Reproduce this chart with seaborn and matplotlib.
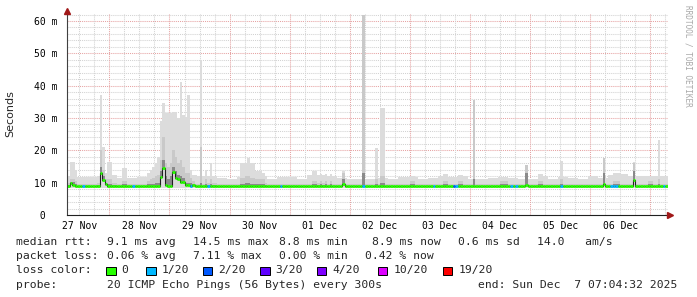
import numpy as np
import matplotlib
matplotlib.use("Agg")
import matplotlib.pyplot as plt
from matplotlib.patches import Rectangle
import seaborn as sns

# ---------------- data ----------------
day_labels = ["27 Nov", "28 Nov", "29 Nov", "30 Nov", "01 Dec",
              "02 Dec", "03 Dec", "04 Dec", "05 Dec", "06 Dec"]
ytick_values = [0, 10, 20, 30, 40, 50, 60]
ytick_labels = [" 0  ", "10 m", "20 m", "30 m", "40 m", "50 m", "60 m"]

# background smoke (max rtt, ms) in 4-hour blocks, 60 blocks = 10 days
smoke_top_4h = [12.0, 11.8, 11.8, 12.0, 12.5, 11.5, 11.5, 11.8, 13.0, 14.0,
                14.0, 14.0, 12.5, 12.0, 12.0, 11.5, 11.2, 11.8, 12.5, 12.0,
                11.2, 11.8, 11.8, 11.2, 12.5, 12.5, 12.0, 11.5, 11.0, 11.2,
                11.0, 11.5, 11.0, 11.8, 11.8, 11.2, 11.5, 12.0, 11.8, 12.0,
                11.2, 11.2, 11.5, 11.8, 11.5, 11.0, 11.2, 12.2, 11.2, 11.8,
                11.5, 11.2, 12.0, 11.5, 12.5, 12.8, 12.0, 12.0, 12.2, 12.0]
# median rtt (ms) in 4-hour blocks
median_4h = [9.0, 8.9, 8.9, 9.0, 9.0, 8.9, 8.9, 8.9, 8.9, 9.0,
             9.0, 9.0, 8.9, 8.9, 9.0, 8.9, 8.9, 8.9, 8.9, 9.0,
             8.9, 8.9, 8.9, 8.9, 8.9, 9.0, 8.9, 8.9, 8.9, 8.9,
             8.9, 8.9, 8.9, 8.9, 8.9, 8.9, 8.9, 8.9, 8.9, 8.9,
             8.9, 8.9, 8.9, 8.9, 8.9, 8.9, 8.9, 8.9, 8.9, 8.9,
             8.9, 8.9, 8.9, 8.9, 8.9, 8.9, 8.9, 8.9, 8.9, 8.9]
smoke_low = 8.3

# hourly smoke spikes: hour since start, max rtt, upper edge of grey smoke, dark core
spike_hour = [1, 2, 3, 13, 14, 15, 16, 17, 22, 23, 32, 33, 34, 35, 36,
              37, 38, 39, 40, 41, 42, 43, 44, 45, 46, 47, 48, 49, 50,
              53, 55, 57, 69, 70, 71, 72, 73, 74, 75, 76, 77, 78,
              98, 99, 101, 103, 105, 110, 118, 123, 125, 126, 137, 138,
              150, 151, 156, 157, 162, 173, 174, 175, 183, 188, 189, 197,
              214, 218, 219, 220, 226, 232, 233, 236]
spike_top = [16.5, 16.5, 14.0, 37.0, 21.0, 13.0, 16.5, 16.5, 14.5, 14.5, 13.0, 14.0, 15.0, 16.0, 18.0,
             29.0, 34.7, 31.6, 31.6, 31.6, 32.0, 32.0, 30.0, 41.0, 31.0, 30.4, 37.0, 14.0, 12.5,
             47.8, 14.0, 16.0, 16.0, 16.0, 16.0, 17.6, 16.0, 16.0, 13.5, 13.5, 13.5, 13.0,
             13.5, 13.5, 12.7, 12.7, 12.7, 13.7, 62.0, 20.7, 33.0, 33.0, 12.0, 12.0,
             12.7, 12.7, 12.5, 12.5, 35.5, 11.9, 11.9, 11.9, 15.5, 12.7, 12.7, 16.7,
             17.6, 13.0, 13.0, 13.0, 16.3, 12.0, 12.0, 23.2]
spike_mid = [11.0, 11.0, 10.5, 20.0, 14.0, 11.0, 11.0, 11.0, 10.5, 10.5, 10.5, 11.0, 11.5, 12.0, 12.5,
             17.0, 24.0, 16.0, 15.0, 16.0, 20.0, 18.0, 16.0, 17.0, 15.0, 13.0, 13.0, 11.5, 10.5,
             21.0, 11.0, 11.0, 11.5, 11.5, 12.0, 12.0, 11.5, 11.5, 11.0, 11.0, 11.0, 11.0,
             10.5, 10.5, 10.5, 10.5, 10.5, 13.0, 62.0, 11.0, 12.0, 12.0, 10.5, 10.5,
             10.5, 10.5, 10.5, 10.5, 35.5, 10.5, 10.5, 10.5, 15.5, 10.5, 10.5, 11.0,
             17.6, 10.5, 10.5, 10.5, 16.0, 10.5, 10.5, 11.0]
spike_core = [10.3, 10.3, 9.6, 15.0, 12.0, 10.0, 9.6, 9.6, 9.5, 9.5, 9.5, 9.5, 9.6, 9.8, 10.0,
              13.5, 17.0, 12.0, 11.0, 12.0, 15.0, 13.5, 12.5, 12.0, 11.5, 10.0, 10.0, 9.8, 9.5,
              10.0, 9.6, 9.6, 9.6, 9.6, 9.8, 9.8, 9.6, 9.6, 9.5, 9.5, 9.5, 9.5,
              9.5, 9.5, 9.5, 9.5, 9.5, 11.0, 13.0, 9.5, 9.8, 9.8, 9.5, 9.5,
              9.5, 9.5, 9.5, 9.5, 11.0, 9.5, 9.5, 9.5, 13.0, 9.5, 9.5, 9.6,
              13.0, 9.5, 9.5, 9.5, 13.5, 9.5, 9.5, 9.6]

# hourly median deviations
median_hour = [1, 2, 13, 14, 15, 37, 38, 39, 40, 41, 42, 43, 44, 45, 46, 47, 48, 50,
               110, 183, 214, 226]
median_val = [10.0, 9.4, 13.1, 10.8, 9.5, 11.9, 14.5, 9.2, 9.0, 9.1, 13.2, 11.5, 11.1, 10.2,
              10.2, 9.2, 9.4, 9.3, 9.6, 9.3, 9.7, 10.8]

# hourly packet loss (index into loss_labels)
loss_hour = [6, 26, 49, 56, 85, 118, 146, 154, 155, 177, 179, 197, 217, 218, 219, 238]
loss_level = [1, 1, 1, 1, 1, 1, 1, 2, 1, 1, 1, 1, 1, 1, 1, 1]
loss_labels = ["0", "1/20", "2/20", "3/20", "4/20", "10/20", "19/20"]
loss_colors = ["#26ff00", "#00b8ff", "#0059ff", "#5e00ff", "#7e00ff", "#dd00ff", "#ff0000"]

# ---------------- build hourly series ----------------
n_hours = 240
med = np.repeat(np.array(median_4h, float), 4)
med[median_hour] = median_val
top = np.repeat(np.array(smoke_top_4h, float), 4)
mid = med + 0.8
core = med + 0.2
for h, t, m, c in zip(spike_hour, spike_top, spike_mid, spike_core):
    top[h] = max(top[h], t)
    mid[h] = max(mid[h], m)
    core[h] = max(core[h], c)
lcol = [loss_colors[0]] * n_hours
for h, lv in zip(loss_hour, loss_level):
    lcol[h] = loss_colors[lv]

edges = np.arange(n_hours + 1)


def ext(a):
    return np.append(a, a[-1])


# ---------------- figure ----------------
sns.set_theme(style="white")
mono = "DejaVu Sans Mono"
plt.rcParams["font.family"] = ["DejaVu Sans"]

W, H = 697, 297
fig = plt.figure(figsize=(W / 100, H / 100), dpi=100)
fig.patch.set_facecolor("white")
L, R, B, T = 67, 668, 215, 14
ax = fig.add_axes([L / W, 1 - B / H, (R - L) / W, (B - T) / H])
ax.set_facecolor("white")
ax.set_xlim(0, n_hours)
ax.set_ylim(0, (B - T) / (194 / 60))

# grid
mid_offset = 24 - (7 + 4 / 60 + 32 / 3600)   # hours from start to first midnight
for v in range(2, 63, 2):
    ax.axhline(v, color="#e6a3a3" if v % 10 == 0 else "#d2d2d2", lw=0.75,
               ls=(0, (1, 1)), zorder=0.5)
h6 = mid_offset - 12
while h6 < n_hours:
    if h6 > 0:
        k = (h6 - mid_offset) / 24
        is_mid = abs(k - round(k)) < 1e-6
        ax.axvline(h6, color="#e6a3a3" if is_mid else "#d2d2d2", lw=0.75,
                   ls=(0, (1, 1)), zorder=0.6 if is_mid else 0.5)
    h6 += 6

# smoke
ax.fill_between(edges, smoke_low, ext(top), step="post", color="#dcdcdc", lw=0, zorder=1)
ax.fill_between(edges, ext(med - 0.5), ext(mid), step="post", color="#c9c9c9", lw=0, zorder=1.1)
ax.fill_between(edges, ext(med - 0.3), ext(core), step="post", color="#8a8a8a", lw=0, zorder=1.2)

# median: dark step line + loss-coloured segments
sns.lineplot(x=edges, y=ext(med), drawstyle="steps-post", color="#202020", lw=0.8,
             ax=ax, zorder=2, estimator=None)
ax.hlines(med, edges[:-1], edges[1:], colors=lcol, lw=2.0, zorder=3)

# axes styling
for s in ["top", "right"]:
    ax.spines[s].set_visible(False)
ax.spines["left"].set_color("#404040")
ax.spines["bottom"].set_color("#202020")
ax.spines["left"].set_linewidth(0.8)
ax.spines["bottom"].set_linewidth(0.8)
ax.spines["left"].set_zorder(4)
ax.spines["bottom"].set_zorder(4)
ax.plot([1.004], [0], marker=">", ms=4, color="#a01818", transform=ax.transAxes,
        clip_on=False, zorder=6)
ax.plot([0], [1.015], marker="^", ms=4, color="#a01818", transform=ax.transAxes,
        clip_on=False, zorder=6)
ax.plot([0, 0], [1.0, 1.015], color="#404040", lw=0.8, transform=ax.transAxes, clip_on=False)

noon_pos = [mid_offset - 12 + 24 * k for k in range(len(day_labels))]
ax.set_xticks(noon_pos, day_labels)
ax.set_yticks(ytick_values, ytick_labels)
ax.tick_params(axis="both", length=0, labelsize=7, colors="#000000")
ax.tick_params(axis="x", pad=4)
ax.tick_params(axis="y", pad=7)
for lab in ax.get_xticklabels() + ax.get_yticklabels():
    lab.set_family(mono)
ax.set_xlabel("")
ax.set_ylabel("")


def ftext(x, y, s, **kw):
    kw.setdefault("family", mono)
    kw.setdefault("fontsize", 8.2)
    kw.setdefault("va", "baseline")
    fig.text(x / W, 1 - y / H, s, **kw)


fig.text(10 / W, 1 - 114 / H, "Seconds", rotation=90, ha="center", va="center",
         fontsize=8, family="DejaVu Sans")
fig.text(688 / W, 1 - 5 / H, "RRDTOOL / TOBI OETIKER", rotation=-90, ha="center",
         va="top", fontsize=5.6, family=mono, color="#a8a8a8")

# legend lines
y1, y2, y3, y4 = 245, 259.2, 273.4, 287.6
ftext(16, y1, "median rtt:")
for x, s in zip([107, 193, 279, 372, 458, 537],
                ["9.1 ms avg", "14.5 ms max", "8.8 ms min", "8.9 ms now", "0.6 ms sd", "14.0   am/s"]):
    ftext(x, y1, s)
ftext(16, y2, "packet loss:")
for x, s in zip([107, 193, 279, 365], ["0.06 % avg", "7.11 % max", "0.00 % min", "0.42 % now"]):
    ftext(x, y2, s)
ftext(16, y3, "loss color:")
box_x = [106, 146, 202.7, 260, 316.7, 377.7, 442.7]
for bx, c, lab in zip(box_x, loss_colors, loss_labels):
    fig.add_artist(Rectangle((bx / W, 1 - 275 / H), 9.5 / W, 8.3 / H,
                             transform=fig.transFigure, facecolor=c,
                             edgecolor="black", lw=0.7))
    ftext(bx + 15.5, y3, lab)
ftext(16, y4, "probe:")
ftext(107, y4, "20 ICMP Echo Pings (56 Bytes) every 300s")
ftext(478, y4, "end: Sun Dec  7 07:04:32 2025")

fig.savefig("out.png", dpi=100, facecolor="white")
